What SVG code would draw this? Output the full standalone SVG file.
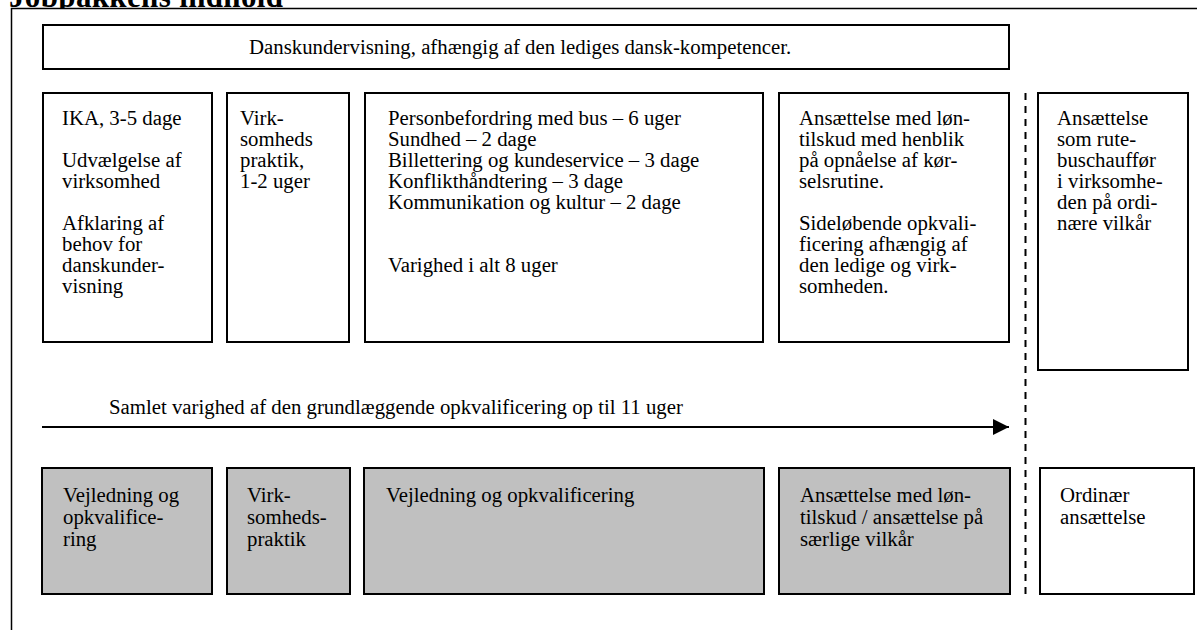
<svg xmlns="http://www.w3.org/2000/svg" width="1197" height="630" viewBox="0 0 1197 630">
<style>
  text { font-family: "Liberation Serif", "Times New Roman", serif; font-size: 20.8px; fill: #000; }
  .title { font-weight: bold; font-size: 31px; }
  .box { fill: #fff; stroke: #000; stroke-width: 2; }
  .grey { fill: #c0c0c0; stroke: #000; stroke-width: 2; }
  .frame { fill: #fff; stroke: #000; stroke-width: 1.5; }
  .dash { stroke: #000; stroke-width: 2; stroke-dasharray: 7 6; fill: none; }
  .conn { stroke: #000; stroke-width: 2; fill: none; }
</style>
<defs>
  <marker id="arr" viewBox="0 0 16 16" refX="16" refY="8" markerWidth="16" markerHeight="16" markerUnits="userSpaceOnUse" orient="auto">
    <path d="M0,0 L16,8 L0,16 Z" fill="#000"/>
  </marker>
</defs>
<rect width="1197" height="630" fill="#fff"/>
<text class="title" x="9" y="7" textLength="274">Jobpakkens indhold</text>
<rect class="frame" x="11.5" y="8.5" width="1200" height="700"/>

<g id="danskundervisning">
  <rect class="box" x="43" y="25" width="966" height="44"/>
  <text x="249" y="54">Danskundervisning, afhængig af den lediges dansk-kompetencer.</text>
</g>

<g id="ika">
  <rect class="box" x="43" y="93" width="169" height="249"/>
  <text x="62" y="125">IKA, 3-5 dage</text>
  <text x="62" y="167">Udvælgelse af</text>
  <text x="62" y="188">virksomhed</text>
  <text x="62" y="230">Afklaring af</text>
  <text x="62" y="251">behov for</text>
  <text x="62" y="272">danskunder-</text>
  <text x="62" y="293">visning</text>
</g>

<g id="praktik">
  <rect class="box" x="227" y="93" width="122" height="249"/>
  <text x="240" y="125">Virk-</text>
  <text x="240" y="146">somheds</text>
  <text x="240" y="167">praktik,</text>
  <text x="240" y="188">1-2 uger</text>
</g>

<g id="kurser">
  <rect class="box" x="365" y="93" width="398" height="249"/>
  <text x="388" y="125">Personbefordring med bus – 6 uger</text>
  <text x="388" y="146">Sundhed – 2 dage</text>
  <text x="388" y="167">Billettering og kundeservice – 3 dage</text>
  <text x="388" y="188">Konflikthåndtering – 3 dage</text>
  <text x="388" y="209">Kommunikation og kultur – 2 dage</text>
  <text x="388" y="272">Varighed i alt 8 uger</text>
</g>

<g id="loentilskud">
  <rect class="box" x="779" y="93" width="230" height="249"/>
  <text x="799" y="125">Ansættelse med løn-</text>
  <text x="799" y="146">tilskud med henblik</text>
  <text x="799" y="167">på opnåelse af kør-</text>
  <text x="799" y="188">selsrutine.</text>
  <text x="799" y="230">Sideløbende opkvali-</text>
  <text x="799" y="251">ficering afhængig af</text>
  <text x="799" y="272">den ledige og virk-</text>
  <text x="799" y="293">somheden.</text>
</g>

<g id="rutebus">
  <rect class="box" x="1038" y="93" width="150" height="277"/>
  <text x="1057" y="125">Ansættelse</text>
  <text x="1057" y="146">som rute-</text>
  <text x="1057" y="167">buschauffør</text>
  <text x="1057" y="188">i virksomhe-</text>
  <text x="1057" y="209">den på ordi-</text>
  <text x="1057" y="230">nære vilkår</text>
</g>

<g id="connectors">
  <line class="dash" x1="1025.5" y1="93" x2="1025.5" y2="594"/>
  <line class="conn" x1="42" y1="427" x2="1009" y2="427" marker-end="url(#arr)"/>
</g>

<g id="samlet-varighed">
  <text x="109" y="414">Samlet varighed af den grundlæggende opkvalificering op til 11 uger</text>
</g>

<g id="vejledning1">
  <rect class="grey" x="42" y="468" width="170" height="126"/>
  <text x="63" y="502">Vejledning og</text>
  <text x="63" y="524">opkvalifice-</text>
  <text x="63" y="546">ring</text>
</g>

<g id="praktik2">
  <rect class="grey" x="227" y="468" width="123" height="126"/>
  <text x="247" y="502">Virk-</text>
  <text x="247" y="524">somheds-</text>
  <text x="247" y="546">praktik</text>
</g>

<g id="vejledning2">
  <rect class="grey" x="364" y="468" width="400" height="126"/>
  <text x="386" y="502">Vejledning og opkvalificering</text>
</g>

<g id="loentilskud2">
  <rect class="grey" x="779" y="468" width="231" height="126"/>
  <text x="800" y="502">Ansættelse med løn-</text>
  <text x="800" y="524">tilskud / ansættelse på</text>
  <text x="800" y="546">særlige vilkår</text>
</g>

<g id="ordinaer">
  <rect class="box" x="1040" y="468" width="154" height="126"/>
  <text x="1060" y="502">Ordinær</text>
  <text x="1060" y="524">ansættelse</text>
</g>
</svg>
